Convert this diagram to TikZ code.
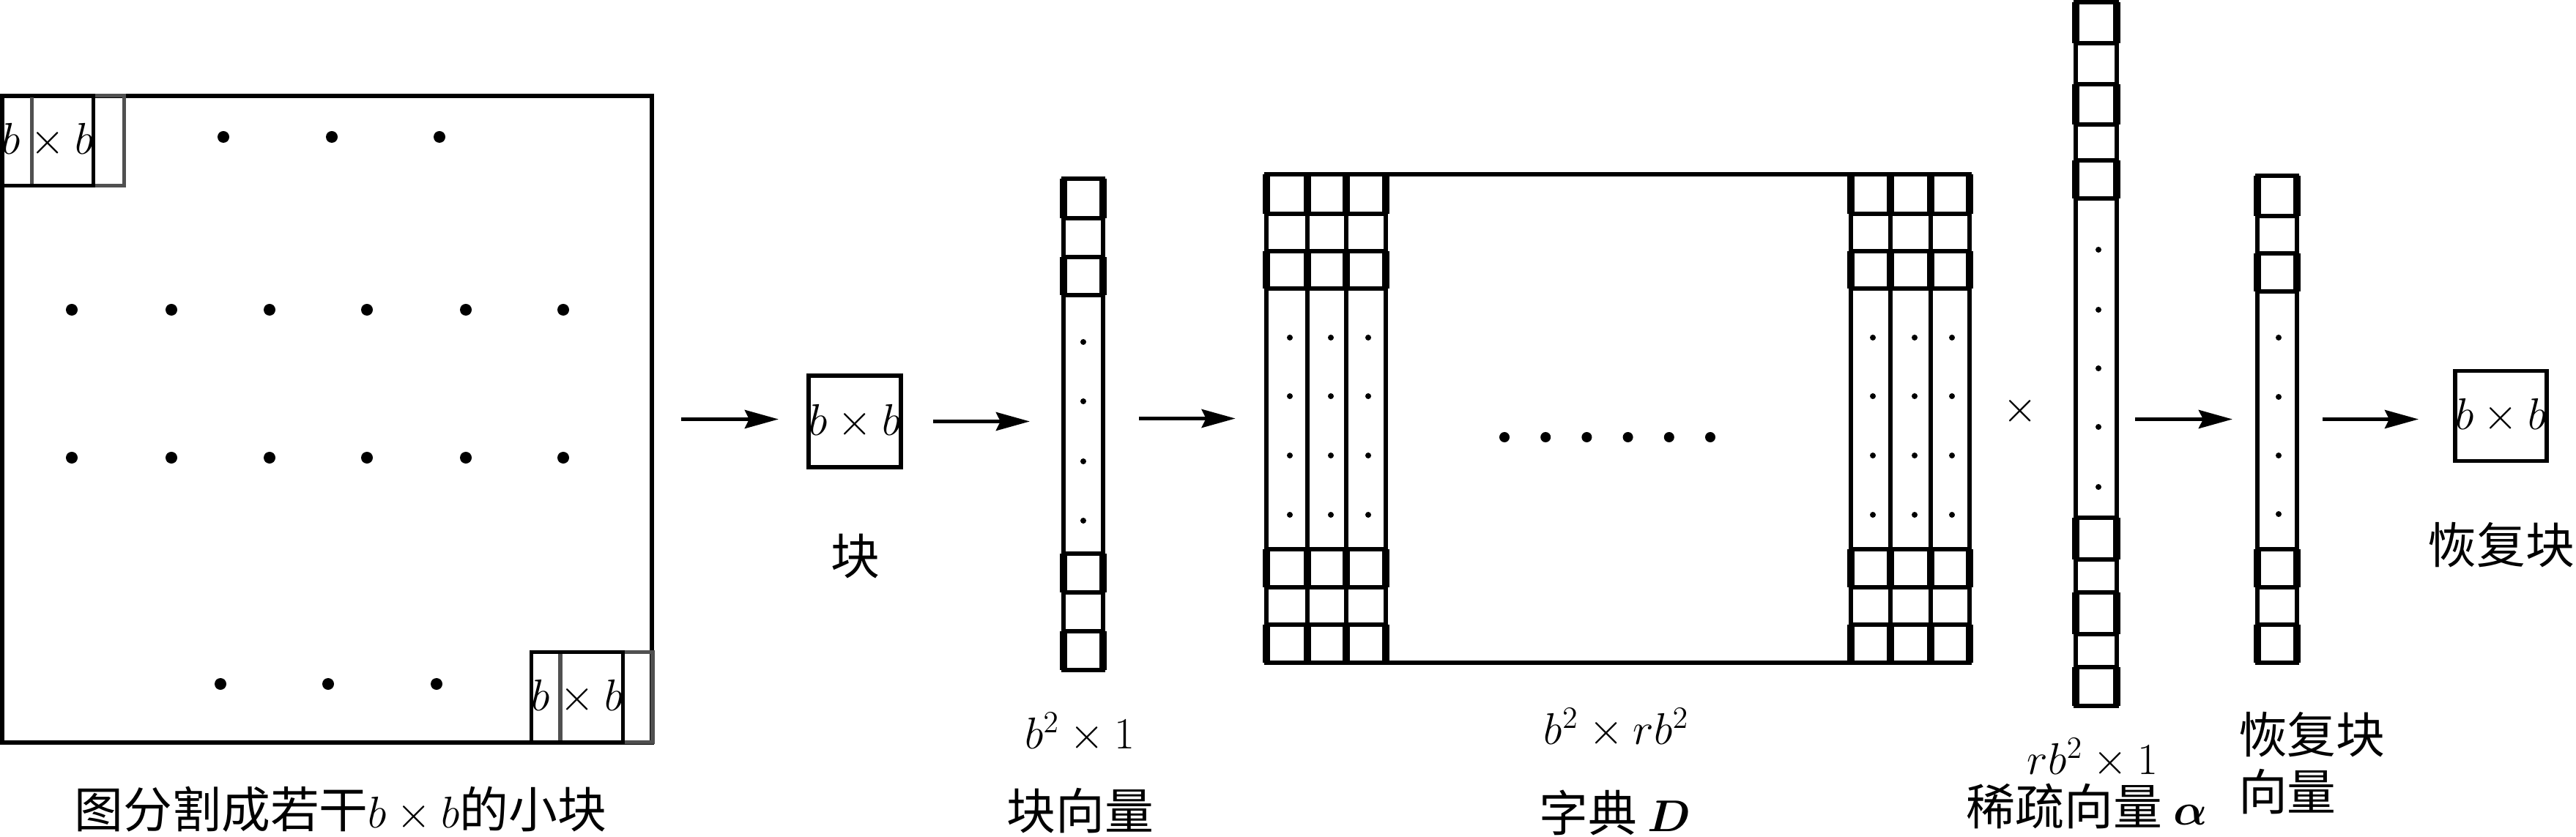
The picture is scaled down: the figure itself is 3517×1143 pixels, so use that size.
\documentclass[tikz,border=0pt]{standalone}
\usepackage{amsmath}
\usepackage{fontspec}
\newfontfamily\cjk{Noto Sans CJK SC}
\usetikzlibrary{arrows.meta, positioning}
\definecolor{shiftGray}{HTML}{505050}

\begin{document}
\begin{tikzpicture}[
  x=0.01cm, y=-0.01cm,
  every node/.style={inner sep=0pt, outer sep=0pt},
  outline/.style={draw=black, line width=1.6pt},
  patchbox/.style={
    outline, minimum width=1.24cm, minimum height=1.23cm,
    font=\fontsize{18}{21}\selectfont
  },
  shiftbox/.style={
    draw=shiftGray, line width=1.6pt,
    minimum width=1.26cm, minimum height=1.23cm
  },
  vecbar/.style={outline, minimum width=0.54cm},
  cellsep/.style={line width=1.6pt},
  heavyside/.style={line width=2.6pt},
  flow/.style={line width=1.5pt, -{Stealth[length=0.46cm, width=0.25cm, inset=0.06cm]}},
  cjklabel/.style={font=\cjk\fontsize{19}{22}\selectfont},
  mathlabel/.style={font=\fontsize{18}{21}\selectfont},
]
\useasboundingbox (0,0) rectangle (3517,1143);

% === IMAGE SPLIT INTO PATCHES ===
\node[outline, minimum width=8.87cm, minimum height=8.83cm] (img) at (446.5,572.5) {};
\node[shiftbox] (tlshift) at (106.5,192) {};
\node[patchbox] (tlpatch) at (65,192) {$b\times b$};
\node[shiftbox] (brshift) at (828,952) {};
\node[patchbox] (brpatch) at (788,952) {$b\times b$};
\foreach \x in {305,453,600} \fill (\x,187) circle (0.08cm);
\foreach \x in {98,234,368,501,636,769} {
  \fill (\x,423) circle (0.08cm);
  \fill (\x,625) circle (0.08cm);
}
\foreach \x in {301,448,596} \fill (\x,934) circle (0.08cm);
\node[cjklabel] (imgcap) at (465,1105) {图分割成若干$b\times b$的小块};

% === ONE PATCH ===
\node[patchbox, minimum width=1.26cm, minimum height=1.25cm] (blk) at (1167,575.5) {$b\times b$};
\node[cjklabel] (blkcap) at (1168,760) {块};

% === PATCH VECTOR ===
\node[vecbar, minimum height=6.71cm] (bvec) at (1479,579.5) {};
\foreach \y in {298,351,403,756,809,862} \draw[cellsep] (1452,\y) -- (1506,\y);
\foreach \a/\b in {244/298,351/403,756/809,862/915}
  \draw[heavyside] (1452,\a) -- (1452,\b) (1506,\a) -- (1506,\b);
\foreach \y in {467,548,630,711} \fill (1479,\y) circle (0.04cm);
\node[mathlabel] (bvecdim) at (1474,1000) {$b^{2}\times 1$};
\node[cjklabel] (bveccap) at (1475,1107) {块向量};

% === DICTIONARY ===
\node[outline, minimum width=9.6cm, minimum height=6.67cm] (dict) at (2209,571.5) {};
\foreach \x in {1785,1838,1892,2527,2581,2636} \draw[cellsep] (\x,238) -- (\x,905);
\foreach \y in {292,343,394,750,802,853}
  \draw[cellsep] (1729,\y) -- (1892,\y) (2527,\y) -- (2689,\y);
\foreach \a/\b in {238/292,343/394,750/802,853/905}
  \foreach \x in {1729,1785,1838,1892,2527,2581,2636,2689}
    \draw[heavyside] (\x,\a) -- (\x,\b);
\foreach \x in {1761,1817,1868,2557,2614,2665}
  \foreach \y in {461,541,622,703}
    \fill (\x,\y) circle (0.04cm);
\foreach \k in {0,...,5} \fill (2054+56.2*\k,597) circle (0.07cm);
\node[mathlabel] (dictdim) at (2207,994) {$b^{2}\times rb^{2}$};
\node[cjklabel] (dictcap) at (2205,1110) {字典 $\boldsymbol{D}$};

\node[mathlabel] (times) at (2758,561) {$\times$};

% === SPARSE VECTOR ===
\node[vecbar, minimum width=0.56cm, minimum height=9.61cm] (sparse) at (2862,483.5) {};
\foreach \y in {59,115,170,219,271,707,764,809,866,911} \draw[cellsep] (2834,\y) -- (2890,\y);
\foreach \a/\b in {3/59,115/170,219/271,707/764,809/866,911/964}
  \draw[heavyside] (2834,\a) -- (2834,\b) (2890,\a) -- (2890,\b);
\foreach \y in {341,423,503,583,665} \fill (2865,\y) circle (0.04cm);
\node[mathlabel] (sparsedim) at (2857,1035) {$rb^{2}\times 1$};
\node[cjklabel] (sparsecap) at (2849,1101) {稀疏向量 $\boldsymbol{\alpha}$};

% === RECOVERED VECTOR AND PATCH ===
\node[vecbar, minimum height=6.65cm] (rvec) at (3109,572.5) {};
\foreach \y in {295,346,398,750,802,853} \draw[cellsep] (3082,\y) -- (3136,\y);
\foreach \a/\b in {240/295,346/398,750/802,853/905}
  \draw[heavyside] (3082,\a) -- (3082,\b) (3136,\a) -- (3136,\b);
\foreach \y in {461,542,622,702} \fill (3111,\y) circle (0.04cm);
\node[cjklabel, align=left, anchor=west] (rveccap) at (3056,1042) {恢复块\\向量};

\node[patchbox, minimum width=1.23cm, minimum height=1.23cm] (rblk) at (3414.5,568) {$b\times b$};
\node[cjklabel] (rblkcap) at (3415,744) {恢复块};

% === FLOW ARROWS ===
\draw[flow, shorten <=0.4cm, shorten >=0.41cm] (img.east) -- (img.east -| blk.west);
\draw[flow, shorten <=0.44cm, shorten >=0.46cm] (blk.east) -- (blk.east -| bvec.west);
\draw[flow, shorten <=0.49cm, shorten >=0.42cm] (dict.west -| bvec.east) -- (dict.west);
\draw[flow, shorten <=0.25cm, shorten >=0.34cm] (rvec.west -| sparse.east) -- (rvec.west);
\draw[flow, shorten <=0.35cm, shorten >=0.5cm] (rvec.east) -- (rvec.east -| rblk.west);

\end{tikzpicture}
\end{document}
